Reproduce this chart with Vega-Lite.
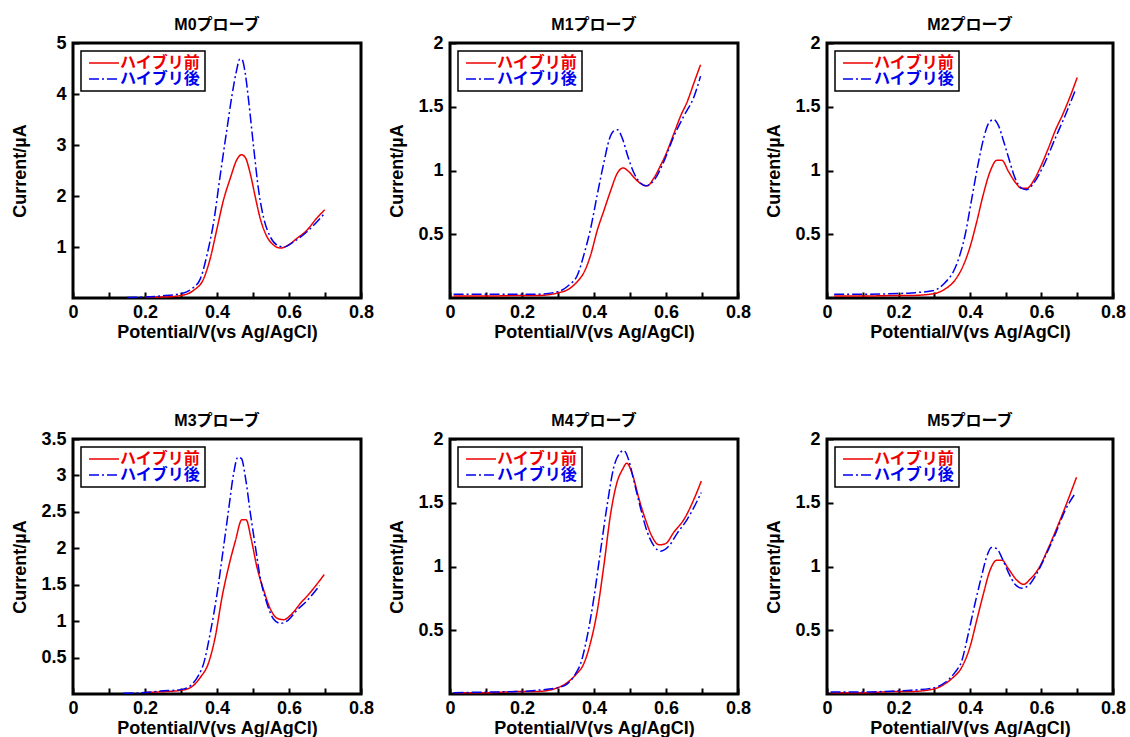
{
  "$schema": "https://vega.github.io/schema/vega-lite/v6.json",
  "padding": {"left": 9, "top": 15, "right": 0, "bottom": 0},
  "background": "white",
  "data": {"values": [
    {"p":"M0","s":"ハイブリ前","v":0.2,"i":0.02},{"p":"M0","s":"ハイブリ前","v":0.25,"i":0.02},{"p":"M0","s":"ハイブリ前","v":0.3,"i":0.05},{"p":"M0","s":"ハイブリ前","v":0.335,"i":0.15},{"p":"M0","s":"ハイブリ前","v":0.363,"i":0.38},{"p":"M0","s":"ハイブリ前","v":0.381,"i":0.77},{"p":"M0","s":"ハイブリ前","v":0.4,"i":1.36},{"p":"M0","s":"ハイブリ前","v":0.418,"i":1.92},{"p":"M0","s":"ハイブリ前","v":0.437,"i":2.35},{"p":"M0","s":"ハイブリ前","v":0.455,"i":2.71},{"p":"M0","s":"ハイブリ前","v":0.468,"i":2.81},{"p":"M0","s":"ハイブリ前","v":0.479,"i":2.75},{"p":"M0","s":"ハイブリ前","v":0.493,"i":2.42},{"p":"M0","s":"ハイブリ前","v":0.507,"i":1.96},{"p":"M0","s":"ハイブリ前","v":0.52,"i":1.56},{"p":"M0","s":"ハイブリ前","v":0.539,"i":1.2},{"p":"M0","s":"ハイブリ前","v":0.557,"i":1.04},{"p":"M0","s":"ハイブリ前","v":0.576,"i":0.98},{"p":"M0","s":"ハイブリ前","v":0.594,"i":1.02},{"p":"M0","s":"ハイブリ前","v":0.622,"i":1.17},{"p":"M0","s":"ハイブリ前","v":0.65,"i":1.33},{"p":"M0","s":"ハイブリ前","v":0.673,"i":1.53},{"p":"M0","s":"ハイブリ前","v":0.699,"i":1.73},
    {"p":"M0","s":"ハイブリ後","v":0.15,"i":0.01},{"p":"M0","s":"ハイブリ後","v":0.2,"i":0.02},{"p":"M0","s":"ハイブリ後","v":0.243,"i":0.04},{"p":"M0","s":"ハイブリ後","v":0.3,"i":0.085},{"p":"M0","s":"ハイブリ後","v":0.33,"i":0.18},{"p":"M0","s":"ハイブリ後","v":0.354,"i":0.38},{"p":"M0","s":"ハイブリ後","v":0.372,"i":0.84},{"p":"M0","s":"ハイブリ後","v":0.391,"i":1.5},{"p":"M0","s":"ハイブリ後","v":0.409,"i":2.41},{"p":"M0","s":"ハイブリ後","v":0.428,"i":3.33},{"p":"M0","s":"ハイブリ後","v":0.442,"i":3.99},{"p":"M0","s":"ハイブリ後","v":0.454,"i":4.45},{"p":"M0","s":"ハイブリ後","v":0.463,"i":4.68},{"p":"M0","s":"ハイブリ後","v":0.469,"i":4.68},{"p":"M0","s":"ハイブリ後","v":0.479,"i":4.38},{"p":"M0","s":"ハイブリ後","v":0.488,"i":3.86},{"p":"M0","s":"ハイブリ後","v":0.502,"i":2.94},{"p":"M0","s":"ハイブリ後","v":0.516,"i":2.09},{"p":"M0","s":"ハイブリ後","v":0.53,"i":1.56},{"p":"M0","s":"ハイブリ後","v":0.548,"i":1.2},{"p":"M0","s":"ハイブリ後","v":0.566,"i":1.04},{"p":"M0","s":"ハイブリ後","v":0.585,"i":1.0},{"p":"M0","s":"ハイブリ後","v":0.613,"i":1.1},{"p":"M0","s":"ハイブリ後","v":0.65,"i":1.3},{"p":"M0","s":"ハイブリ後","v":0.699,"i":1.66},
    {"p":"M1","s":"ハイブリ前","v":0.01,"i":0.015},{"p":"M1","s":"ハイブリ前","v":0.1,"i":0.015},{"p":"M1","s":"ハイブリ前","v":0.2,"i":0.02},{"p":"M1","s":"ハイブリ前","v":0.243,"i":0.02},{"p":"M1","s":"ハイブリ前","v":0.3,"i":0.04},{"p":"M1","s":"ハイブリ前","v":0.33,"i":0.07},{"p":"M1","s":"ハイブリ前","v":0.354,"i":0.13},{"p":"M1","s":"ハイブリ前","v":0.372,"i":0.2},{"p":"M1","s":"ハイブリ前","v":0.391,"i":0.34},{"p":"M1","s":"ハイブリ前","v":0.409,"i":0.53},{"p":"M1","s":"ハイブリ前","v":0.428,"i":0.69},{"p":"M1","s":"ハイブリ前","v":0.446,"i":0.84},{"p":"M1","s":"ハイブリ前","v":0.465,"i":0.98},{"p":"M1","s":"ハイブリ前","v":0.481,"i":1.02},{"p":"M1","s":"ハイブリ前","v":0.497,"i":0.99},{"p":"M1","s":"ハイブリ前","v":0.516,"i":0.93},{"p":"M1","s":"ハイブリ前","v":0.534,"i":0.89},{"p":"M1","s":"ハイブリ前","v":0.548,"i":0.88},{"p":"M1","s":"ハイブリ前","v":0.566,"i":0.94},{"p":"M1","s":"ハイブリ前","v":0.585,"i":1.04},{"p":"M1","s":"ハイブリ前","v":0.603,"i":1.15},{"p":"M1","s":"ハイブリ前","v":0.622,"i":1.29},{"p":"M1","s":"ハイブリ前","v":0.641,"i":1.43},{"p":"M1","s":"ハイブリ前","v":0.659,"i":1.54},{"p":"M1","s":"ハイブリ前","v":0.678,"i":1.69},{"p":"M1","s":"ハイブリ前","v":0.696,"i":1.83},
    {"p":"M1","s":"ハイブリ後","v":0.01,"i":0.03},{"p":"M1","s":"ハイブリ後","v":0.1,"i":0.03},{"p":"M1","s":"ハイブリ後","v":0.2,"i":0.03},{"p":"M1","s":"ハイブリ後","v":0.243,"i":0.03},{"p":"M1","s":"ハイブリ後","v":0.3,"i":0.05},{"p":"M1","s":"ハイブリ後","v":0.33,"i":0.1},{"p":"M1","s":"ハイブリ後","v":0.354,"i":0.18},{"p":"M1","s":"ハイブリ後","v":0.372,"i":0.34},{"p":"M1","s":"ハイブリ後","v":0.391,"i":0.55},{"p":"M1","s":"ハイブリ後","v":0.409,"i":0.81},{"p":"M1","s":"ハイブリ後","v":0.428,"i":1.07},{"p":"M1","s":"ハイブリ後","v":0.442,"i":1.24},{"p":"M1","s":"ハイブリ後","v":0.455,"i":1.31},{"p":"M1","s":"ハイブリ後","v":0.465,"i":1.32},{"p":"M1","s":"ハイブリ後","v":0.479,"i":1.25},{"p":"M1","s":"ハイブリ後","v":0.493,"i":1.12},{"p":"M1","s":"ハイブリ後","v":0.511,"i":0.98},{"p":"M1","s":"ハイブリ後","v":0.53,"i":0.9},{"p":"M1","s":"ハイブリ後","v":0.543,"i":0.88},{"p":"M1","s":"ハイブリ後","v":0.566,"i":0.92},{"p":"M1","s":"ハイブリ後","v":0.594,"i":1.07},{"p":"M1","s":"ハイブリ後","v":0.622,"i":1.27},{"p":"M1","s":"ハイブリ後","v":0.65,"i":1.43},{"p":"M1","s":"ハイブリ後","v":0.678,"i":1.58},{"p":"M1","s":"ハイブリ後","v":0.696,"i":1.74},
    {"p":"M2","s":"ハイブリ前","v":0.02,"i":0.015},{"p":"M2","s":"ハイブリ前","v":0.1,"i":0.015},{"p":"M2","s":"ハイブリ前","v":0.2,"i":0.02},{"p":"M2","s":"ハイブリ前","v":0.236,"i":0.02},{"p":"M2","s":"ハイブリ前","v":0.3,"i":0.035},{"p":"M2","s":"ハイブリ前","v":0.33,"i":0.07},{"p":"M2","s":"ハイブリ前","v":0.358,"i":0.14},{"p":"M2","s":"ハイブリ前","v":0.382,"i":0.26},{"p":"M2","s":"ハイブリ前","v":0.4,"i":0.4},{"p":"M2","s":"ハイブリ前","v":0.419,"i":0.6},{"p":"M2","s":"ハイブリ前","v":0.437,"i":0.81},{"p":"M2","s":"ハイブリ前","v":0.456,"i":0.99},{"p":"M2","s":"ハイブリ前","v":0.475,"i":1.08},{"p":"M2","s":"ハイブリ前","v":0.489,"i":1.08},{"p":"M2","s":"ハイブリ前","v":0.508,"i":0.99},{"p":"M2","s":"ハイブリ前","v":0.526,"i":0.91},{"p":"M2","s":"ハイブリ前","v":0.545,"i":0.86},{"p":"M2","s":"ハイブリ前","v":0.559,"i":0.86},{"p":"M2","s":"ハイブリ前","v":0.578,"i":0.92},{"p":"M2","s":"ハイブリ前","v":0.596,"i":1.02},{"p":"M2","s":"ハイブリ前","v":0.62,"i":1.18},{"p":"M2","s":"ハイブリ前","v":0.638,"i":1.31},{"p":"M2","s":"ハイブリ前","v":0.661,"i":1.45},{"p":"M2","s":"ハイブリ前","v":0.68,"i":1.58},{"p":"M2","s":"ハイブリ前","v":0.7,"i":1.73},
    {"p":"M2","s":"ハイブリ後","v":0.02,"i":0.03},{"p":"M2","s":"ハイブリ後","v":0.1,"i":0.03},{"p":"M2","s":"ハイブリ後","v":0.2,"i":0.035},{"p":"M2","s":"ハイブリ後","v":0.236,"i":0.04},{"p":"M2","s":"ハイブリ後","v":0.3,"i":0.06},{"p":"M2","s":"ハイブリ後","v":0.33,"i":0.12},{"p":"M2","s":"ハイブリ後","v":0.354,"i":0.21},{"p":"M2","s":"ハイブリ後","v":0.372,"i":0.34},{"p":"M2","s":"ハイブリ後","v":0.386,"i":0.49},{"p":"M2","s":"ハイブリ後","v":0.405,"i":0.78},{"p":"M2","s":"ハイブリ後","v":0.424,"i":1.07},{"p":"M2","s":"ハイブリ後","v":0.438,"i":1.25},{"p":"M2","s":"ハイブリ後","v":0.452,"i":1.37},{"p":"M2","s":"ハイブリ後","v":0.466,"i":1.4},{"p":"M2","s":"ハイブリ後","v":0.48,"i":1.35},{"p":"M2","s":"ハイブリ後","v":0.494,"i":1.23},{"p":"M2","s":"ハイブリ後","v":0.508,"i":1.1},{"p":"M2","s":"ハイブリ後","v":0.526,"i":0.94},{"p":"M2","s":"ハイブリ後","v":0.545,"i":0.86},{"p":"M2","s":"ハイブリ後","v":0.559,"i":0.85},{"p":"M2","s":"ハイブリ後","v":0.578,"i":0.9},{"p":"M2","s":"ハイブリ後","v":0.606,"i":1.04},{"p":"M2","s":"ハイブリ後","v":0.638,"i":1.25},{"p":"M2","s":"ハイブリ後","v":0.666,"i":1.43},{"p":"M2","s":"ハイブリ後","v":0.696,"i":1.64},
    {"p":"M3","s":"ハイブリ前","v":0.2,"i":0.02},{"p":"M3","s":"ハイブリ前","v":0.2425,"i":0.03},{"p":"M3","s":"ハイブリ前","v":0.3,"i":0.05},{"p":"M3","s":"ハイブリ前","v":0.33,"i":0.1},{"p":"M3","s":"ハイブリ前","v":0.354,"i":0.23},{"p":"M3","s":"ハイブリ前","v":0.376,"i":0.42},{"p":"M3","s":"ハイブリ前","v":0.395,"i":0.78},{"p":"M3","s":"ハイブリ前","v":0.414,"i":1.33},{"p":"M3","s":"ハイブリ前","v":0.432,"i":1.74},{"p":"M3","s":"ハイブリ前","v":0.451,"i":2.1},{"p":"M3","s":"ハイブリ前","v":0.469,"i":2.39},{"p":"M3","s":"ハイブリ前","v":0.481,"i":2.39},{"p":"M3","s":"ハイブリ前","v":0.494,"i":2.15},{"p":"M3","s":"ハイブリ前","v":0.511,"i":1.74},{"p":"M3","s":"ハイブリ前","v":0.53,"i":1.42},{"p":"M3","s":"ハイブリ前","v":0.548,"i":1.17},{"p":"M3","s":"ハイブリ前","v":0.567,"i":1.04},{"p":"M3","s":"ハイブリ前","v":0.585,"i":1.02},{"p":"M3","s":"ハイブリ前","v":0.608,"i":1.1},{"p":"M3","s":"ハイブリ前","v":0.631,"i":1.24},{"p":"M3","s":"ハイブリ前","v":0.655,"i":1.37},{"p":"M3","s":"ハイブリ前","v":0.678,"i":1.51},{"p":"M3","s":"ハイブリ前","v":0.698,"i":1.64},
    {"p":"M3","s":"ハイブリ後","v":0.14,"i":0.01},{"p":"M3","s":"ハイブリ後","v":0.2,"i":0.02},{"p":"M3","s":"ハイブリ後","v":0.2425,"i":0.04},{"p":"M3","s":"ハイブリ後","v":0.3,"i":0.06},{"p":"M3","s":"ハイブリ後","v":0.33,"i":0.13},{"p":"M3","s":"ハイブリ後","v":0.349,"i":0.26},{"p":"M3","s":"ハイブリ後","v":0.363,"i":0.42},{"p":"M3","s":"ハイブリ後","v":0.381,"i":0.83},{"p":"M3","s":"ハイブリ後","v":0.4,"i":1.37},{"p":"M3","s":"ハイブリ後","v":0.418,"i":2.01},{"p":"M3","s":"ハイブリ後","v":0.432,"i":2.52},{"p":"M3","s":"ハイブリ後","v":0.446,"i":3.02},{"p":"M3","s":"ハイブリ後","v":0.458,"i":3.25},{"p":"M3","s":"ハイブリ後","v":0.468,"i":3.23},{"p":"M3","s":"ハイブリ後","v":0.479,"i":2.97},{"p":"M3","s":"ハイブリ後","v":0.493,"i":2.47},{"p":"M3","s":"ハイブリ後","v":0.507,"i":2.01},{"p":"M3","s":"ハイブリ後","v":0.52,"i":1.6},{"p":"M3","s":"ハイブリ後","v":0.539,"i":1.24},{"p":"M3","s":"ハイブリ後","v":0.557,"i":1.03},{"p":"M3","s":"ハイブリ後","v":0.576,"i":0.97},{"p":"M3","s":"ハイブリ後","v":0.594,"i":1.0},{"p":"M3","s":"ハイブリ後","v":0.622,"i":1.15},{"p":"M3","s":"ハイブリ後","v":0.65,"i":1.28},{"p":"M3","s":"ハイブリ後","v":0.685,"i":1.49},
    {"p":"M4","s":"ハイブリ前","v":0.01,"i":0.01},{"p":"M4","s":"ハイブリ前","v":0.1,"i":0.01},{"p":"M4","s":"ハイブリ前","v":0.2,"i":0.02},{"p":"M4","s":"ハイブリ前","v":0.2425,"i":0.02},{"p":"M4","s":"ハイブリ前","v":0.3,"i":0.05},{"p":"M4","s":"ハイブリ前","v":0.326,"i":0.09},{"p":"M4","s":"ハイブリ前","v":0.349,"i":0.15},{"p":"M4","s":"ハイブリ前","v":0.372,"i":0.24},{"p":"M4","s":"ハイブリ前","v":0.391,"i":0.41},{"p":"M4","s":"ハイブリ前","v":0.409,"i":0.65},{"p":"M4","s":"ハイブリ前","v":0.428,"i":1.02},{"p":"M4","s":"ハイブリ前","v":0.446,"i":1.41},{"p":"M4","s":"ハイブリ前","v":0.465,"i":1.67},{"p":"M4","s":"ハイブリ前","v":0.479,"i":1.76},{"p":"M4","s":"ハイブリ前","v":0.491,"i":1.81},{"p":"M4","s":"ハイブリ前","v":0.507,"i":1.72},{"p":"M4","s":"ハイブリ前","v":0.525,"i":1.53},{"p":"M4","s":"ハイブリ前","v":0.544,"i":1.36},{"p":"M4","s":"ハイブリ前","v":0.562,"i":1.23},{"p":"M4","s":"ハイブリ前","v":0.581,"i":1.17},{"p":"M4","s":"ハイブリ前","v":0.599,"i":1.18},{"p":"M4","s":"ハイブリ前","v":0.622,"i":1.27},{"p":"M4","s":"ハイブリ前","v":0.65,"i":1.37},{"p":"M4","s":"ハイブリ前","v":0.678,"i":1.53},{"p":"M4","s":"ハイブリ前","v":0.698,"i":1.67},
    {"p":"M4","s":"ハイブリ後","v":0.01,"i":0.01},{"p":"M4","s":"ハイブリ後","v":0.1,"i":0.015},{"p":"M4","s":"ハイブリ後","v":0.2,"i":0.02},{"p":"M4","s":"ハイブリ後","v":0.2425,"i":0.03},{"p":"M4","s":"ハイブリ後","v":0.3,"i":0.05},{"p":"M4","s":"ハイブリ後","v":0.326,"i":0.08},{"p":"M4","s":"ハイブリ後","v":0.349,"i":0.16},{"p":"M4","s":"ハイブリ後","v":0.363,"i":0.24},{"p":"M4","s":"ハイブリ後","v":0.381,"i":0.45},{"p":"M4","s":"ハイブリ後","v":0.4,"i":0.76},{"p":"M4","s":"ハイブリ後","v":0.418,"i":1.12},{"p":"M4","s":"ハイブリ後","v":0.437,"i":1.49},{"p":"M4","s":"ハイブリ後","v":0.455,"i":1.78},{"p":"M4","s":"ハイブリ後","v":0.472,"i":1.89},{"p":"M4","s":"ハイブリ後","v":0.483,"i":1.91},{"p":"M4","s":"ハイブリ後","v":0.497,"i":1.83},{"p":"M4","s":"ハイブリ後","v":0.511,"i":1.67},{"p":"M4","s":"ハイブリ後","v":0.53,"i":1.45},{"p":"M4","s":"ハイブリ後","v":0.548,"i":1.27},{"p":"M4","s":"ハイブリ後","v":0.567,"i":1.16},{"p":"M4","s":"ハイブリ後","v":0.585,"i":1.12},{"p":"M4","s":"ハイブリ後","v":0.608,"i":1.16},{"p":"M4","s":"ハイブリ後","v":0.631,"i":1.26},{"p":"M4","s":"ハイブリ後","v":0.659,"i":1.37},{"p":"M4","s":"ハイブリ後","v":0.698,"i":1.58},
    {"p":"M5","s":"ハイブリ前","v":0.01,"i":0.01},{"p":"M5","s":"ハイブリ前","v":0.1,"i":0.01},{"p":"M5","s":"ハイブリ前","v":0.2,"i":0.02},{"p":"M5","s":"ハイブリ前","v":0.236,"i":0.02},{"p":"M5","s":"ハイブリ前","v":0.3,"i":0.04},{"p":"M5","s":"ハイブリ前","v":0.33,"i":0.08},{"p":"M5","s":"ハイブリ前","v":0.353,"i":0.13},{"p":"M5","s":"ハイブリ前","v":0.377,"i":0.21},{"p":"M5","s":"ハイブリ前","v":0.4,"i":0.37},{"p":"M5","s":"ハイブリ前","v":0.419,"i":0.58},{"p":"M5","s":"ハイブリ前","v":0.437,"i":0.78},{"p":"M5","s":"ハイブリ前","v":0.456,"i":0.97},{"p":"M5","s":"ハイブリ前","v":0.475,"i":1.05},{"p":"M5","s":"ハイブリ前","v":0.489,"i":1.05},{"p":"M5","s":"ハイブリ前","v":0.508,"i":0.98},{"p":"M5","s":"ハイブリ前","v":0.532,"i":0.89},{"p":"M5","s":"ハイブリ前","v":0.55,"i":0.86},{"p":"M5","s":"ハイブリ前","v":0.568,"i":0.9},{"p":"M5","s":"ハイブリ前","v":0.591,"i":0.98},{"p":"M5","s":"ハイブリ前","v":0.62,"i":1.15},{"p":"M5","s":"ハイブリ前","v":0.647,"i":1.33},{"p":"M5","s":"ハイブリ前","v":0.671,"i":1.5},{"p":"M5","s":"ハイブリ前","v":0.698,"i":1.7},
    {"p":"M5","s":"ハイブリ後","v":0.01,"i":0.015},{"p":"M5","s":"ハイブリ後","v":0.1,"i":0.015},{"p":"M5","s":"ハイブリ後","v":0.2,"i":0.025},{"p":"M5","s":"ハイブリ後","v":0.236,"i":0.03},{"p":"M5","s":"ハイブリ後","v":0.3,"i":0.05},{"p":"M5","s":"ハイブリ後","v":0.33,"i":0.09},{"p":"M5","s":"ハイブリ後","v":0.358,"i":0.17},{"p":"M5","s":"ハイブリ後","v":0.377,"i":0.26},{"p":"M5","s":"ハイブリ後","v":0.395,"i":0.47},{"p":"M5","s":"ハイブリ後","v":0.414,"i":0.71},{"p":"M5","s":"ハイブリ後","v":0.432,"i":0.92},{"p":"M5","s":"ハイブリ後","v":0.446,"i":1.07},{"p":"M5","s":"ハイブリ後","v":0.46,"i":1.15},{"p":"M5","s":"ハイブリ後","v":0.475,"i":1.14},{"p":"M5","s":"ハイブリ後","v":0.489,"i":1.07},{"p":"M5","s":"ハイブリ後","v":0.508,"i":0.95},{"p":"M5","s":"ハイブリ後","v":0.526,"i":0.86},{"p":"M5","s":"ハイブリ後","v":0.545,"i":0.83},{"p":"M5","s":"ハイブリ後","v":0.563,"i":0.85},{"p":"M5","s":"ハイブリ後","v":0.586,"i":0.94},{"p":"M5","s":"ハイブリ後","v":0.609,"i":1.07},{"p":"M5","s":"ハイブリ後","v":0.638,"i":1.25},{"p":"M5","s":"ハイブリ後","v":0.666,"i":1.44},{"p":"M5","s":"ハイブリ後","v":0.696,"i":1.58}
  ]},
  "bounds": "flush",
  "columns": 3,
  "spacing": {"row": 141, "column": 89},
  "resolve": {"scale": {"color": "independent", "strokeDash": "independent"}},
  "concat": [
    {
      "title": "M0プローブ",
      "width": 288, "height": 255,
      "transform": [{"filter": "datum.p == 'M0'"}],
      "mark": {"type": "line", "strokeWidth": 1.5, "interpolate": "monotone"},
      "encoding": {
        "x": {"field": "v", "type": "quantitative", "title": "Potential/V(vs Ag/AgCl)", "scale": {"domain": [0, 0.8], "nice": false}},
        "y": {"field": "i", "type": "quantitative", "title": "Current/µA", "scale": {"domain": [0, 5], "nice": false}, "axis": {"values": [1, 2, 3, 4, 5]}},
        "color": {"field": "s", "type": "nominal", "scale": {"domain": ["ハイブリ前", "ハイブリ後"], "range": ["#ee0000", "#0000ee"]}, "legend": {"title": null, "labelColor": {"expr": "datum.label == 'ハイブリ前' ? '#ee0000' : '#0000ee'"}}},
        "strokeDash": {"field": "s", "type": "nominal", "scale": {"domain": ["ハイブリ前", "ハイブリ後"], "range": [[1, 0], [10, 3, 2, 3]]}, "legend": {"title": null, "labelColor": {"expr": "datum.label == 'ハイブリ前' ? '#ee0000' : '#0000ee'"}}}
      }
    },
    {
      "title": "M1プローブ",
      "width": 288, "height": 255,
      "transform": [{"filter": "datum.p == 'M1'"}],
      "mark": {"type": "line", "strokeWidth": 1.5, "interpolate": "monotone"},
      "encoding": {
        "x": {"field": "v", "type": "quantitative", "title": "Potential/V(vs Ag/AgCl)", "scale": {"domain": [0, 0.8], "nice": false}},
        "y": {"field": "i", "type": "quantitative", "title": "Current/µA", "scale": {"domain": [0, 2], "nice": false}, "axis": {"values": [0.5, 1, 1.5, 2]}},
        "color": {"field": "s", "type": "nominal", "scale": {"domain": ["ハイブリ前", "ハイブリ後"], "range": ["#ee0000", "#0000ee"]}, "legend": {"title": null, "labelColor": {"expr": "datum.label == 'ハイブリ前' ? '#ee0000' : '#0000ee'"}}},
        "strokeDash": {"field": "s", "type": "nominal", "scale": {"domain": ["ハイブリ前", "ハイブリ後"], "range": [[1, 0], [10, 3, 2, 3]]}, "legend": {"title": null, "labelColor": {"expr": "datum.label == 'ハイブリ前' ? '#ee0000' : '#0000ee'"}}}
      }
    },
    {
      "title": "M2プローブ",
      "width": 286, "height": 255,
      "transform": [{"filter": "datum.p == 'M2'"}],
      "mark": {"type": "line", "strokeWidth": 1.5, "interpolate": "monotone"},
      "encoding": {
        "x": {"field": "v", "type": "quantitative", "title": "Potential/V(vs Ag/AgCl)", "scale": {"domain": [0, 0.8], "nice": false}},
        "y": {"field": "i", "type": "quantitative", "title": "Current/µA", "scale": {"domain": [0, 2], "nice": false}, "axis": {"values": [0.5, 1, 1.5, 2]}},
        "color": {"field": "s", "type": "nominal", "scale": {"domain": ["ハイブリ前", "ハイブリ後"], "range": ["#ee0000", "#0000ee"]}, "legend": {"title": null, "labelColor": {"expr": "datum.label == 'ハイブリ前' ? '#ee0000' : '#0000ee'"}}},
        "strokeDash": {"field": "s", "type": "nominal", "scale": {"domain": ["ハイブリ前", "ハイブリ後"], "range": [[1, 0], [10, 3, 2, 3]]}, "legend": {"title": null, "labelColor": {"expr": "datum.label == 'ハイブリ前' ? '#ee0000' : '#0000ee'"}}}
      }
    },
    {
      "title": "M3プローブ",
      "width": 288, "height": 255,
      "transform": [{"filter": "datum.p == 'M3'"}],
      "mark": {"type": "line", "strokeWidth": 1.5, "interpolate": "monotone"},
      "encoding": {
        "x": {"field": "v", "type": "quantitative", "title": "Potential/V(vs Ag/AgCl)", "scale": {"domain": [0, 0.8], "nice": false}},
        "y": {"field": "i", "type": "quantitative", "title": "Current/µA", "scale": {"domain": [0, 3.5], "nice": false}, "axis": {"values": [0.5, 1, 1.5, 2, 2.5, 3, 3.5]}},
        "color": {"field": "s", "type": "nominal", "scale": {"domain": ["ハイブリ前", "ハイブリ後"], "range": ["#ee0000", "#0000ee"]}, "legend": {"title": null, "labelColor": {"expr": "datum.label == 'ハイブリ前' ? '#ee0000' : '#0000ee'"}}},
        "strokeDash": {"field": "s", "type": "nominal", "scale": {"domain": ["ハイブリ前", "ハイブリ後"], "range": [[1, 0], [10, 3, 2, 3]]}, "legend": {"title": null, "labelColor": {"expr": "datum.label == 'ハイブリ前' ? '#ee0000' : '#0000ee'"}}}
      }
    },
    {
      "title": "M4プローブ",
      "width": 288, "height": 255,
      "transform": [{"filter": "datum.p == 'M4'"}],
      "mark": {"type": "line", "strokeWidth": 1.5, "interpolate": "monotone"},
      "encoding": {
        "x": {"field": "v", "type": "quantitative", "title": "Potential/V(vs Ag/AgCl)", "scale": {"domain": [0, 0.8], "nice": false}},
        "y": {"field": "i", "type": "quantitative", "title": "Current/µA", "scale": {"domain": [0, 2], "nice": false}, "axis": {"values": [0.5, 1, 1.5, 2]}},
        "color": {"field": "s", "type": "nominal", "scale": {"domain": ["ハイブリ前", "ハイブリ後"], "range": ["#ee0000", "#0000ee"]}, "legend": {"title": null, "labelColor": {"expr": "datum.label == 'ハイブリ前' ? '#ee0000' : '#0000ee'"}}},
        "strokeDash": {"field": "s", "type": "nominal", "scale": {"domain": ["ハイブリ前", "ハイブリ後"], "range": [[1, 0], [10, 3, 2, 3]]}, "legend": {"title": null, "labelColor": {"expr": "datum.label == 'ハイブリ前' ? '#ee0000' : '#0000ee'"}}}
      }
    },
    {
      "title": "M5プローブ",
      "width": 286, "height": 255,
      "transform": [{"filter": "datum.p == 'M5'"}],
      "mark": {"type": "line", "strokeWidth": 1.5, "interpolate": "monotone"},
      "encoding": {
        "x": {"field": "v", "type": "quantitative", "title": "Potential/V(vs Ag/AgCl)", "scale": {"domain": [0, 0.8], "nice": false}},
        "y": {"field": "i", "type": "quantitative", "title": "Current/µA", "scale": {"domain": [0, 2], "nice": false}, "axis": {"values": [0.5, 1, 1.5, 2]}},
        "color": {"field": "s", "type": "nominal", "scale": {"domain": ["ハイブリ前", "ハイブリ後"], "range": ["#ee0000", "#0000ee"]}, "legend": {"title": null, "labelColor": {"expr": "datum.label == 'ハイブリ前' ? '#ee0000' : '#0000ee'"}}},
        "strokeDash": {"field": "s", "type": "nominal", "scale": {"domain": ["ハイブリ前", "ハイブリ後"], "range": [[1, 0], [10, 3, 2, 3]]}, "legend": {"title": null, "labelColor": {"expr": "datum.label == 'ハイブリ前' ? '#ee0000' : '#0000ee'"}}}
      }
    }
  ],
  "config": {
    "font": "Liberation Sans, Noto Sans CJK JP",
    "view": {"stroke": "black", "strokeWidth": 3},
    "title": {"font": "Liberation Sans, Noto Sans CJK JP", "fontSize": 16, "fontWeight": "bold", "color": "black", "offset": 1},
    "axis": {"domain": false, "grid": false, "tickColor": "black", "tickWidth": 2, "tickSize": -6, "labelFont": "Liberation Sans", "labelFontSize": 18, "labelFontWeight": "bold", "labelColor": "black", "labelPadding": 13, "labelOverlap": false, "labelFlush": false, "titleFont": "Liberation Sans", "titleFontSize": 18, "titleFontWeight": "bold", "titleColor": "black"},
    "axisX": {"values": [0, 0.1, 0.2, 0.3, 0.4, 0.5, 0.6, 0.7, 0.8], "format": ".1~f", "labelExpr": "indexof(['0', '0.2', '0.4', '0.6', '0.8'], datum.label) >= 0 ? datum.label : ''", "titlePadding": 2, "labelPadding": 11},
    "axisY": {"titleX": -44, "format": ".1~f"},
    "legend": {"orient": "top-left", "offset": 8, "fillColor": "white", "strokeColor": "black", "strokeWidth": 1.5, "padding": 4, "symbolType": "M-3,0H3", "symbolSize": 100, "symbolOffset": 11, "symbolStrokeWidth": 1.5, "labelFont": "Liberation Sans, Noto Sans CJK JP", "labelFontSize": 16, "labelFontWeight": "bold", "labelOffset": 8, "rowPadding": 0}
  }
}
